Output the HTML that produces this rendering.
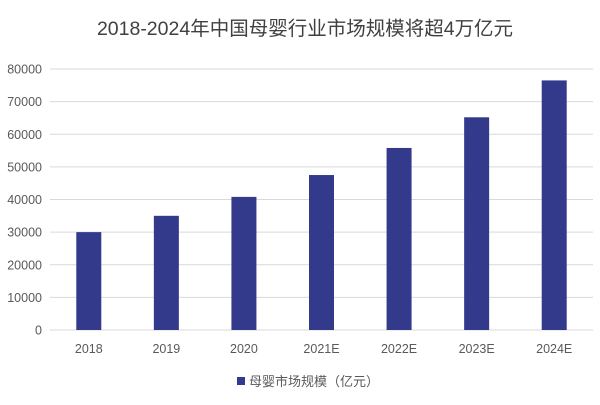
<!DOCTYPE html>
<html><head><meta charset="utf-8"><style>
html,body{margin:0;padding:0;background:#fff;}
svg text{font-family:"Liberation Sans","Noto Sans CJK SC",sans-serif;}
</style></head><body>
<svg width="600" height="400" viewBox="0 0 600 400" xmlns="http://www.w3.org/2000/svg">
<rect width="600" height="400" fill="#fff"/>
<text x="305" y="35" text-anchor="middle" font-size="19.5" fill="#404040">2018-2024年中国母婴行业市场规模将超4万亿元</text>
<g id="grid"></g><g id="bars"></g><g id="xlabels"></g>
<g>
<rect x="237" y="377" width="8" height="8" fill="#333A8C"/>
<text x="249" y="386" font-size="13" fill="#595959">母婴市场规模（亿元）</text>
</g>
</svg>
<script>
const categories=["2018","2019","2020","2021E","2022E","2023E","2024E"];
const values=[30000,35000,40800,47500,55800,65200,76500];
const yTicks=[0,10000,20000,30000,40000,50000,60000,70000,80000];
const ns="http://www.w3.org/2000/svg";
const x0=50,x1=593,y0=330,y1=69,ymax=80000;
const band=(x1-x0)/categories.length;
function y(v){return y0-(v/ymax)*(y0-y1);}
function xc(i){return x0+band*(i+0.5);}
const grid=document.getElementById('grid');
yTicks.forEach(t=>{
 const l=document.createElementNS(ns,'line');
 l.setAttribute('x1',x0);l.setAttribute('x2',x1);l.setAttribute('y1',y(t));l.setAttribute('y2',y(t));
 l.setAttribute('stroke','#d9d9d9');l.setAttribute('stroke-width','1');
 
 
 grid.appendChild(l);
 const tx=document.createElementNS(ns,'text');
 tx.setAttribute('x',42);tx.setAttribute('y',y(t)+4.5);tx.setAttribute('text-anchor','end');
 tx.setAttribute('font-size','12.5');tx.setAttribute('fill','#595959');tx.textContent=t;
 
 
 grid.appendChild(tx);
});
const bars=document.getElementById('bars'),xl=document.getElementById('xlabels');
categories.forEach((c,i)=>{
 const r=document.createElementNS(ns,'rect');
 const w=25;
 r.setAttribute('x',xc(i)-w/2);r.setAttribute('y',y(values[i]));
 r.setAttribute('width',w);r.setAttribute('height',y0-y(values[i]));
 r.setAttribute('fill','#333A8C');
 
 
 bars.appendChild(r);
 const t=document.createElementNS(ns,'text');
 t.setAttribute('x',xc(i));t.setAttribute('y',353);t.setAttribute('text-anchor','middle');
 t.setAttribute('font-size','12.5');t.setAttribute('fill','#595959');t.textContent=c;
 
 
 xl.appendChild(t);
});
</script>
</body></html>
